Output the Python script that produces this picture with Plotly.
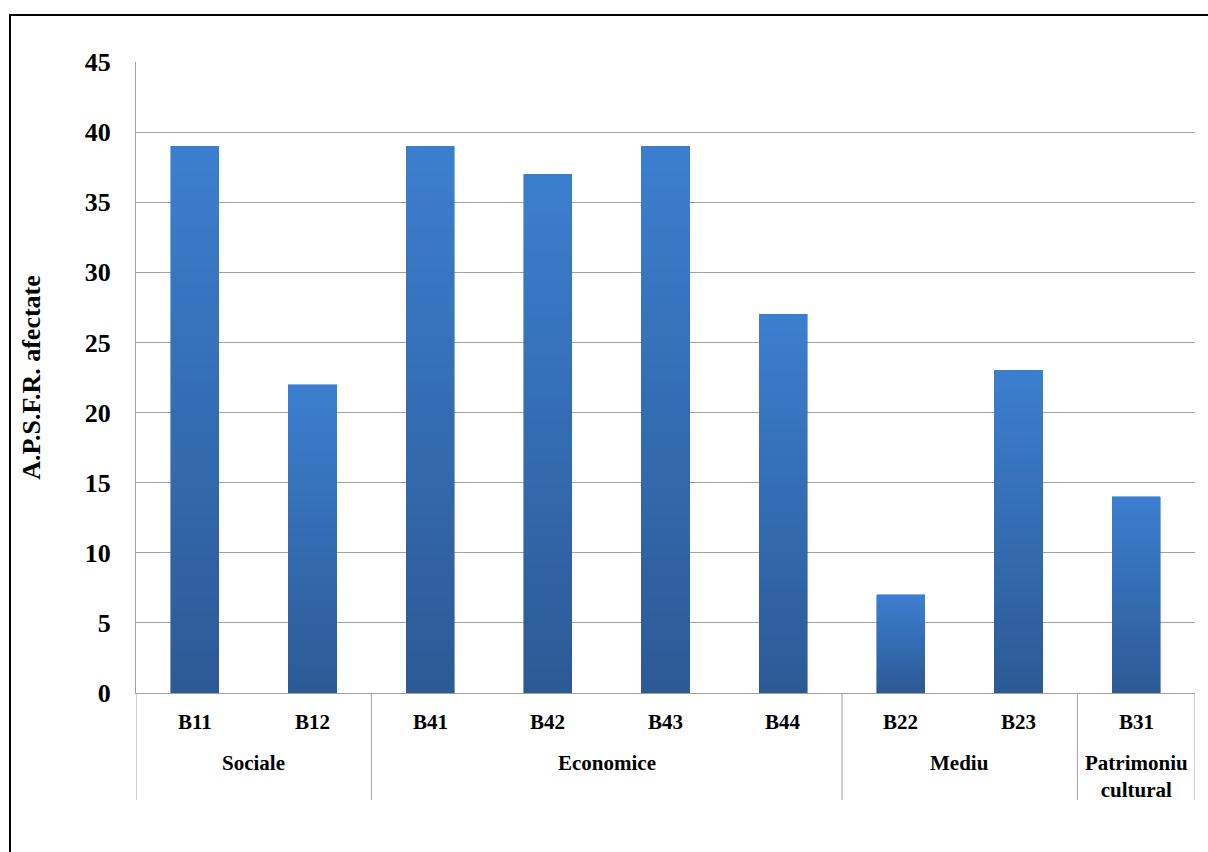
import plotly.graph_objects as go

groups = ["Sociale", "Sociale", "Economice", "Economice", "Economice", "Economice",
          "Mediu", "Mediu", "Patrimoniu<br>cultural"]
categories = ["B11", "B12", "B41", "B42", "B43", "B44", "B22", "B23", "B31"]
values = [39, 22, 39, 37, 39, 27, 7, 23, 14]
y_ticks = [0, 5, 10, 15, 20, 25, 30, 35, 40, 45]
y_title = "A.P.S.F.R. afectate"

FONT = "Liberation Serif, Times New Roman, serif"
GRID = "#A0A0A0"
bottom_rgb = (44, 90, 150)
top_rgb = (60, 126, 206)
N = 40

W, H = 1208, 852
ML, MR, MT, MB = 136, 13, 62, 159
plot_h = H - MT - MB

fig = go.Figure()
for i in range(N):
    t = i / (N - 1)
    c = tuple(round(bottom_rgb[k] + (top_rgb[k] - bottom_rgb[k]) * t) for k in range(3))
    col = "rgb(%d,%d,%d)" % c
    fig.add_trace(go.Bar(
        x=categories,
        y=[v / N for v in values],
        marker=dict(color=col, line=dict(width=0.6, color=col)),
        width=0.41,
        showlegend=False,
        hoverinfo="skip",
    ))

annotations = []
shapes = []
# category labels
for i, cat in enumerate(categories):
    annotations.append(dict(x=i, y=-29 / plot_h, xref="x", yref="paper", text=cat,
                            showarrow=False, xanchor="center", yanchor="middle",
                            font=dict(family=FONT, size=21, weight="bold", color="black")))
# group labels and dividers
bounds = [-0.5]
start = 0
for i in range(1, len(groups) + 1):
    if i == len(groups) or groups[i] != groups[start]:
        center = (start + i - 1) / 2
        annotations.append(dict(x=center, y=-56 / plot_h, xref="x", yref="paper", text=groups[start],
                                showarrow=False, xanchor="center", yanchor="top",
                                font=dict(family=FONT, size=21, weight="bold", color="black")))
        bounds.append(i - 0.5)
        start = i
for b in bounds:
    shapes.append(dict(type="line", xref="x", yref="paper", x0=b, x1=b, y0=0, y1=-107 / plot_h,
                       line=dict(color=GRID, width=1)))
# outer frame
shapes.append(dict(type="rect", xref="paper", yref="paper",
                   x0=(10 - ML) / (W - ML - MR), x1=1.05, y0=-0.4, y1=(plot_h + MT - 15) / plot_h,
                   line=dict(color="black", width=2), fillcolor="rgba(0,0,0,0)", layer="above"))

fig.update_layout(
    barmode="stack",
    width=W, height=H,
    margin=dict(l=ML, r=MR, t=MT, b=MB, autoexpand=False),
    plot_bgcolor="white", paper_bgcolor="white",
    font=dict(family=FONT, color="black"),
    annotations=annotations,
    shapes=shapes,
)
fig.update_yaxes(
    range=[0, 45], tickvals=y_ticks,
    showgrid=True, gridcolor=GRID, gridwidth=1,
    showline=True, linecolor=GRID, linewidth=1,
    zeroline=False,
    tickfont=dict(family=FONT, size=26, weight="bold", color="black"),
    ticklabelstandoff=19,
    title=dict(text=y_title, font=dict(family=FONT, size=26, weight="bold", color="black"), standoff=36),
)
fig.update_xaxes(
    type="category",
    range=[-0.5, len(categories) - 0.5],
    showline=True, linecolor=GRID, linewidth=1,
    showticklabels=False, ticks="",
)

fig.write_html("out.html", config={"displayModeBar": False},
               post_script="document.body.style.margin='0';document.body.style.overflow='hidden';")
